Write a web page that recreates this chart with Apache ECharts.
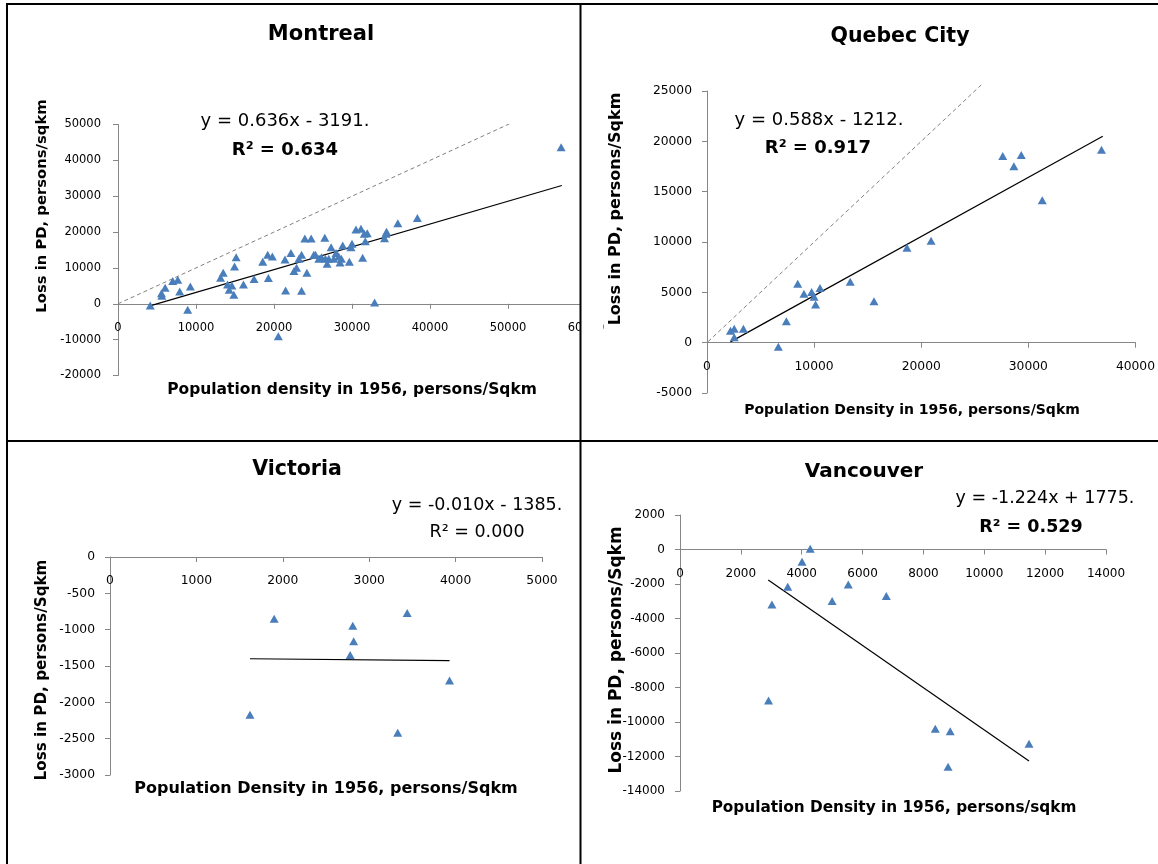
<!DOCTYPE html>
<html><head><meta charset="utf-8">
<script src="https://cdn.jsdelivr.net/npm/echarts@6/dist/echarts.min.js"></script>
<style>html,body{margin:0;padding:0;background:#fff}#c{width:1158px;height:864px}</style>
</head><body><div id="c"></div>
<script>
// ---- Data ----
const montX = [4128,5574,5617,6043,7021,7660,7915,9277,8936,13149,13489,14043,14255,14596,14851,14936,15149,16085,17447,18553,19191,19277,19787,20553,21404,21489,22170,22553,22894,23191,23532,23532,23957,24213,24766,25106,25319,25745,26085,26511,26596,26809,27021,27319,27660,27957,28298,28468,28638,28809,29660,29872,30000,30511,31149,31362,31574,31702,31957,34170,34340,34426,35872,38383,32894,56809];
const montY = [-470,2970,2230,4460,6320,6690,3440,4830,-1670,7250,8640,5390,3900,5110,2510,10410,13010,5390,6880,11710,13660,7160,13200,-9020,12360,3720,14130,9110,10040,12550,13660,3620,18220,8640,18220,13660,13660,12550,13010,18400,12550,11150,12550,15800,12550,14130,13200,11520,12550,16260,11710,15800,16730,20730,20910,12830,19520,17470,19700,18310,19520,20070,22490,23890,370,43680];
const montTrendX = [4100, 56900];
const montTrendY = [-580, 33000];
const montRefX = [0, 51500];
const montRefY = [0, 51500];

const qcX = [2190,2540,2540,3400,6660,7410,8470,9050,9770,10000,10140,10550,13370,15590,18670,20920,27610,28650,29340,31300,36830];
const qcY = [1190,1390,530,1390,-400,2120,5860,4870,5030,4570,3780,5430,6060,4110,9440,10130,18540,17520,18640,14140,19170];
const qcTrendX = [2190, 36950];
const qcTrendY = [80, 20500];
const qcRefX = [-1800, 25600];
const qcRefY = [-1800, 25600];

const vicX = [1900,1620,2810,2820,2780,3440,3330,3930];
const vicY = [-850,-2170,-945,-1160,-1350,-770,-2420,-1700];
const vicTrendX = [1620, 3930];
const vicTrendY = [-1400, -1425];

const vanX = [4280,4010,3540,3020,2910,5000,5530,6780,8390,8880,8810,11470];
const vanY = [50,-710,-2160,-3190,-8750,-2990,-2030,-2700,-10390,-10540,-12590,-11260];
const vanTrendX = [2900, 11470];
const vanTrendY = [-1770, -12260];

const titles = ['Montreal', 'Quebec City', 'Victoria', 'Vancouver'];
const equations = ['y = 0.636x - 3191.', 'y = 0.588x - 1212.', 'y = -0.010x - 1385.', 'y = -1.224x + 1775.'];
const rSquared = ['R\u00b2 = 0.634', 'R\u00b2 = 0.917', 'R\u00b2 = 0.000', 'R\u00b2 = 0.529'];
const xTitles = ['Population density in 1956, persons/Sqkm', 'Population Density in 1956, persons/Sqkm', 'Population Density in 1956, persons/Sqkm', 'Population Density in 1956, persons/sqkm'];
const yTitles = ['Loss in PD, persons/sqkm', 'Loss in PD, persons/Sqkm', 'Loss in PD, persons/Sqkm', 'Loss in PD, persons/Sqkm'];

// ---- helpers ----
const zip = (a, b) => a.map((v, i) => [v, b[i]]);
const FONT = '"DejaVu Sans", sans-serif';
const AXC = '#868686';
const BLUE = '#4A7EBB';
const plain = v => String(v);

const grids = [
  { left: 118, top: 124.5, width: 468, height: 251 },
  { left: 707, top: 91, width: 463, height: 302 },
  { left: 110, top: 557, width: 432, height: 218 },
  { left: 680, top: 515, width: 426, height: 276 }
];
const yRanges = [[-20000, 50000, 10000], [-5000, 25000, 5000], [-3000, 0, 500], [-14000, 2000, 2000]];
// pixel distance from grid bottom to the y = 0 line (x axis crosses at zero)
const zeroOffset = i => -grids[i].height * (0 - yRanges[i][0]) / (yRanges[i][1] - yRanges[i][0]);

function xAx(idx, min, max, interval, fs) {
  return { gridIndex: idx, type: 'value', min, max, interval, position: 'bottom',
    offset: zeroOffset(idx),
    splitLine: { show: false },
    axisLine: { onZero: false, lineStyle: { color: AXC, width: 1 } },
    axisTick: { show: true, length: 5, lineStyle: { color: AXC } },
    axisLabel: { color: '#000', fontFamily: FONT, fontSize: fs, margin: 18, formatter: plain, showMinLabel: true, showMaxLabel: true } };
}
function yAx(idx, fs, margin) {
  const r = yRanges[idx];
  return { gridIndex: idx, type: 'value', min: r[0], max: r[1], interval: r[2],
    splitLine: { show: false },
    axisLine: { show: true, onZero: false, lineStyle: { color: AXC, width: 1 } },
    axisTick: { show: true, length: 5, lineStyle: { color: AXC } },
    axisLabel: { color: '#000', fontFamily: FONT, fontSize: fs, margin: margin, formatter: plain } };
}
function scatter(idx, xs, ys) {
  return { type: 'scatter', xAxisIndex: idx, yAxisIndex: idx, data: zip(xs, ys),
    symbol: 'triangle', symbolSize: [9, 8], itemStyle: { color: BLUE, opacity: 1 }, z: 3 };
}
function line(idx, xs, ys, dashed, clip) {
  return { type: 'line', xAxisIndex: idx, yAxisIndex: idx, data: zip(xs, ys),
    showSymbol: false, symbol: 'none', clip: clip !== false, silent: true,
    lineStyle: dashed ? { color: '#808080', width: 1, type: [4, 3] } : { color: '#000', width: 1.2 }, z: 2 };
}
function txt(text, x, y, size, bold, rot) {
  return { type: 'text', x, y, rotation: rot || 0, z: 50,
    style: { text, fill: '#000', font: (bold ? 'bold ' : '') + size + 'px ' + FONT,
      textAlign: 'center', textVerticalAlign: 'middle' } };
}

const graphic = [
  { type: 'rect', shape: { x: 581, y: 290, width: 22, height: 50 }, style: { fill: '#fff' }, z: 40 },
  { type: 'line', shape: { x1: 6, y1: 4, x2: 1158, y2: 4 }, style: { stroke: '#000', lineWidth: 2 }, z: 60 },
  { type: 'line', shape: { x1: 7, y1: 3, x2: 7, y2: 864 }, style: { stroke: '#000', lineWidth: 2 }, z: 60 },
  { type: 'line', shape: { x1: 580.5, y1: 3, x2: 580.5, y2: 864 }, style: { stroke: '#000', lineWidth: 2 }, z: 60 },
  { type: 'line', shape: { x1: 6, y1: 441, x2: 1158, y2: 441 }, style: { stroke: '#000', lineWidth: 2 }, z: 60 },
  txt(titles[0], 321, 35, 21, true),
  txt(titles[1], 900, 37, 20.5, true),
  txt(titles[2], 297, 470, 20.5, true),
  txt(titles[3], 864, 472, 20, true),
  txt(equations[0], 285, 121, 18, false),
  txt(rSquared[0], 285, 150, 18, true),
  txt(equations[1], 819, 120, 18, false),
  txt(rSquared[1], 818, 148, 18, true),
  txt(equations[2], 477, 505, 17.5, false),
  txt(rSquared[2], 477, 532, 17.5, false),
  txt(equations[3], 1045, 498, 17.5, false),
  txt(rSquared[3], 1031, 527, 17.5, true),
  txt(xTitles[0], 352, 390, 15.5, true),
  txt(yTitles[0], 42, 206, 14.8, true, Math.PI / 2),
  txt(xTitles[1], 912, 410, 14, true),
  txt(yTitles[1], 616, 209, 16, true, Math.PI / 2),
  txt(xTitles[2], 326, 789, 16, true),
  txt(yTitles[2], 42, 670, 15.2, true, Math.PI / 2),
  txt(xTitles[3], 894, 808, 15.3, true),
  txt(yTitles[3], 617, 650, 17, true, Math.PI / 2)
];

const option = {
  backgroundColor: '#fff',
  animation: false,
  grid: grids,
  xAxis: [
    xAx(0, 0, 60000, 10000, 11.5),
    xAx(1, 0, 40000, 10000, 12.3),
    xAx(2, 0, 5000, 1000, 12.3),
    xAx(3, 0, 14000, 2000, 12)
  ],
  yAxis: [
    yAx(0, 11.5, 17),
    yAx(1, 12.3, 15),
    yAx(2, 12.3, 15),
    yAx(3, 12, 15)
  ],
  series: [
    line(0, montRefX, montRefY, true),
    line(0, montTrendX, montTrendY, false),
    scatter(0, montX, montY),
    line(1, qcRefX, qcRefY, true, false),
    line(1, qcTrendX, qcTrendY, false),
    scatter(1, qcX, qcY),
    line(2, vicTrendX, vicTrendY, false),
    scatter(2, vicX, vicY),
    line(3, vanTrendX, vanTrendY, false),
    scatter(3, vanX, vanY)
  ],
  graphic: graphic
};
const chart = echarts.init(document.getElementById('c'), null, { renderer: 'canvas' });
chart.setOption(option);
</script></body></html>
